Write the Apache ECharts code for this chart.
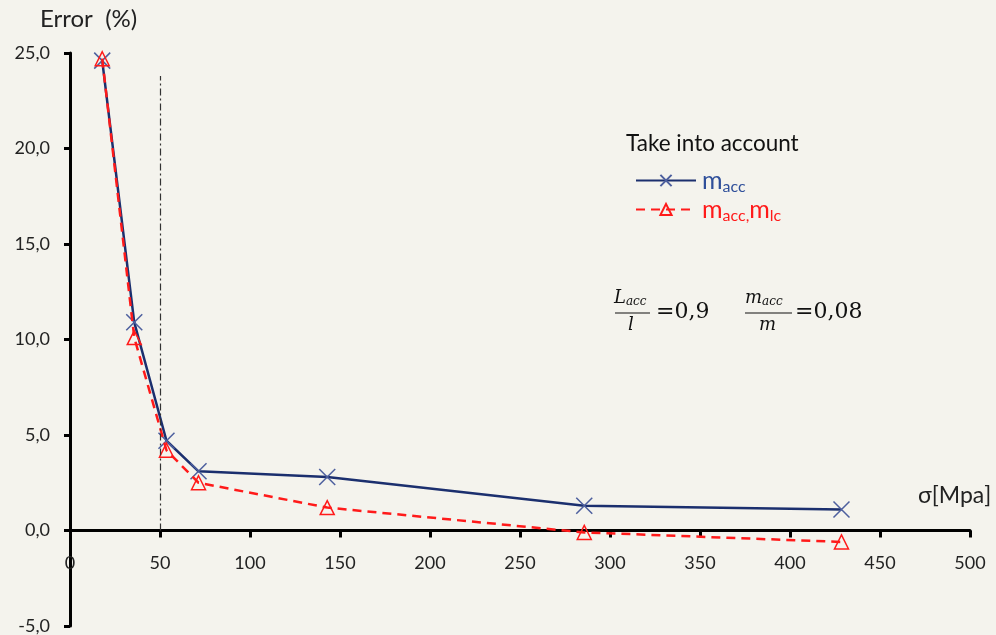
<!DOCTYPE html>
<html>
<head>
<meta charset="utf-8">
<script src="https://cdn.jsdelivr.net/npm/echarts@6/dist/echarts.min.js"></script>
<style>
  html, body { margin: 0; padding: 0; background: #f4f3ed; }
  #chart { width: 996px; height: 635px; }
</style>
</head>
<body>
<div id="chart"></div>
<script>
// Stress levels σ [MPa]
const sigma = [17.9, 35.7, 53.6, 71.4, 142.9, 285.7, 428.6];
// Error (%) when only m_acc is taken into account
const errAcc = [24.6, 10.9, 4.7, 3.1, 2.8, 1.3, 1.1];
// Error (%) when m_acc and m_lc are taken into account
const errAccLc = [24.7, 10.1, 4.2, 2.5, 1.2, -0.1, -0.6];
// Reference stress marked with a dash-dot line
const refSigma = 50;
const refTop = 23.8;

const FONT = 'Lato, "Open Sans", sans-serif';
const SERIF = '"DejaVu Serif", "Liberation Serif", serif';
const BLUE = '#1b2f6e';
const BLUE_MARK = '#4d5f9e';
const RED = '#ff1a1a';

const pairs = (xs, ys) => xs.map((x, i) => [x, ys[i]]);
const fmtComma = v => v.toFixed(1).replace('.', ',');

const chart = echarts.init(document.getElementById('chart'));
chart.setOption({
  backgroundColor: '#f4f3ed',
  animation: false,
  grid: { left: 70, right: 26, top: 53, bottom: 9, containLabel: false, outerBoundsMode: 'none' },
  xAxis: {
    type: 'value', min: 0, max: 500, interval: 50,
    axisLine: { show: true, onZero: true, lineStyle: { color: '#000', width: 3 } },
    axisTick: { show: true, inside: false, length: 7, lineStyle: { color: '#000', width: 3 } },
    // labels sit just below the zero line rather than at the grid bottom
    axisLabel: { color: '#222', fontFamily: FONT, fontSize: 18, margin: -72 },
    splitLine: { show: false }
  },
  yAxis: {
    type: 'value', min: -5, max: 25, interval: 5,
    axisLine: { show: true, onZero: false, lineStyle: { color: '#000', width: 3 } },
    axisTick: { show: true, inside: false, length: 6, lineStyle: { color: '#000', width: 3 } },
    axisLabel: { color: '#222', fontFamily: FONT, fontSize: 18, margin: 20, formatter: fmtComma },
    splitLine: { show: false }
  },
  legend: {
    orient: 'vertical', left: 630, top: 163,
    itemWidth: 60, itemHeight: 14, itemGap: 2,
    data: [{ name: 'macc' }, { name: 'macc,mlc' }],
    formatter: name => name === 'macc'
      ? '{mb|m}{sb|acc}'
      : '{mr|m}{sr|acc,}{mr|m}{sr|lc}',
    textStyle: {
      fontFamily: FONT,
      padding: [0, 0, 0, 1],
      rich: {
        mb: { fontFamily: FONT, fontSize: 25, color: '#2f4f9a' },
        sb: { fontFamily: FONT, fontSize: 16, color: '#2f4f9a', padding: [13, 0, 0, 0] },
        mr: { fontFamily: FONT, fontSize: 25, color: RED },
        sr: { fontFamily: FONT, fontSize: 16, color: RED, padding: [13, 0, 0, 0] }
      }
    }
  },
  series: [
    {
      name: 'macc', type: 'line', data: pairs(sigma, errAcc),
      lineStyle: { color: BLUE, width: 2.5 },
      symbol: 'path://M0,0L10,10M10,0L0,10', symbolSize: 16,
      itemStyle: { color: 'transparent', borderColor: BLUE_MARK, borderWidth: 1.5 },
      z: 3,
      markLine: {
        silent: true, symbol: 'none', label: { show: false },
        lineStyle: { color: '#333', width: 1.2, type: [7, 3, 2, 3] },
        data: [[{ coord: [refSigma, 0] }, { coord: [refSigma, refTop] }]]
      }
    },
    {
      name: 'macc,mlc', type: 'line', data: pairs(sigma, errAccLc),
      lineStyle: { color: RED, width: 2.5, type: [9, 6] },
      symbol: 'triangle', symbolSize: 14,
      itemStyle: { color: 'transparent', borderColor: RED, borderWidth: 1.5 },
      z: 4
    }
  ],
  graphic: [
    { type: 'text', left: 40, top: 7, style: { text: 'Error  (%)', font: '24px ' + FONT, fill: '#222' } },
    { type: 'text', left: 918, top: 484, style: { text: 'σ[Mpa]', font: '23px ' + FONT, fill: '#222' } },
    { type: 'text', left: 626, top: 132, style: { text: 'Take into account', font: '22.5px ' + FONT, fill: '#111' } },
    // L_acc / l = 0,9
    { type: 'text', left: 614, top: 289, style: {
        text: '{b|L}{s|acc}', rich: {
          b: { font: 'italic 18px ' + SERIF, fill: '#111' },
          s: { font: 'italic 12px ' + SERIF, fill: '#111', padding: [8, 0, 0, 0] } } } },
    { type: 'line', shape: { x1: 615, y1: 313, x2: 650, y2: 313 }, style: { stroke: '#111', lineWidth: 1.2 } },
    { type: 'text', left: 628, top: 316, style: { text: 'l', font: 'italic 18px ' + SERIF, fill: '#111' } },
    { type: 'text', left: 656, top: 301, style: { text: '=0,9', font: '22px ' + SERIF, fill: '#111' } },
    // m_acc / m = 0,08
    { type: 'text', left: 745, top: 289, style: {
        text: '{b|m}{s|acc}', rich: {
          b: { font: 'italic 18px ' + SERIF, fill: '#111' },
          s: { font: 'italic 12px ' + SERIF, fill: '#111', padding: [8, 0, 0, 0] } } } },
    { type: 'line', shape: { x1: 745, y1: 313, x2: 792, y2: 313 }, style: { stroke: '#111', lineWidth: 1.2 } },
    { type: 'text', left: 759, top: 316, style: { text: 'm', font: 'italic 18px ' + SERIF, fill: '#111' } },
    { type: 'text', left: 795, top: 301, style: { text: '=0,08', font: '22px ' + SERIF, fill: '#111' } }
  ]
});
</script>
</body>
</html>
